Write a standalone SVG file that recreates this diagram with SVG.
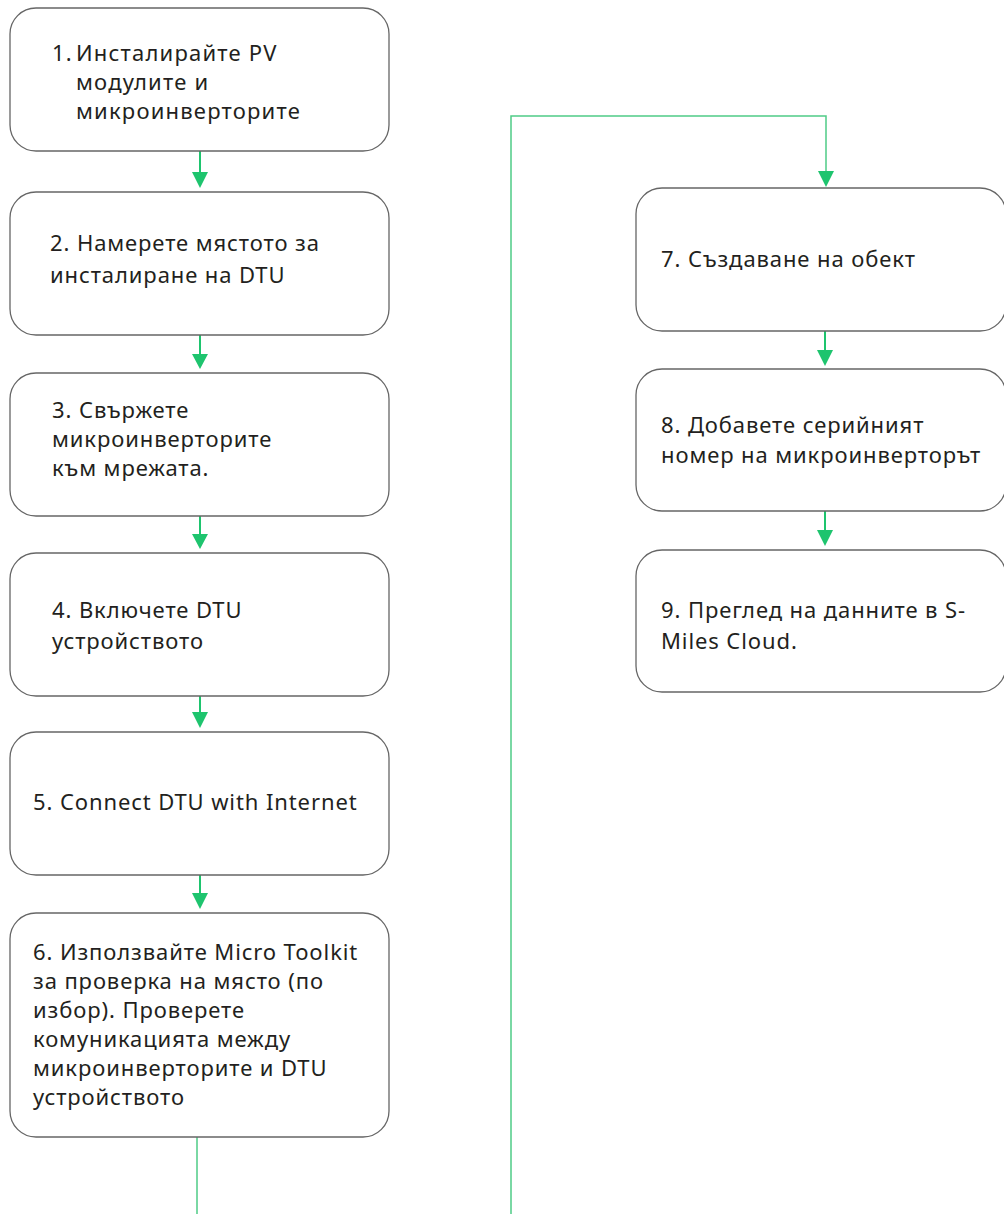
<svg xmlns="http://www.w3.org/2000/svg" width="1004" height="1214" viewBox="0 0 1004 1214">
<style>
.box{fill:#fff;stroke:#666;stroke-width:1.3}
.t{font-family:"Noto Sans","Open Sans","Noto Sans CJK SC",sans-serif;font-size:22px;letter-spacing:0.9px;fill:#231f20}
.t1{font-family:"Noto Sans","Open Sans",sans-serif;font-size:22px;letter-spacing:1.2px;fill:#231f20}
.c{stroke:#1ec46e;stroke-width:2;fill:none}
.cl{stroke:#4fcb86;stroke-width:1.5;fill:none}
.ah{fill:#1ec46e}
</style>
<rect width="1004" height="1214" fill="#fff"/>
<g id="connectors">
<path class="c" d="M200 151V174"/><polygon class="ah" points="192,172 208,172 200,188"/>
<path class="c" d="M200 335V355"/><polygon class="ah" points="192,354 208,354 200,369"/>
<path class="c" d="M200 516V535"/><polygon class="ah" points="192,534 208,534 200,549"/>
<path class="c" d="M200 696V713"/><polygon class="ah" points="192,712 208,712 200,728"/>
<path class="c" d="M200 875V894"/><polygon class="ah" points="192,893 208,893 200,909"/>
<path class="cl" d="M197 1137V1230H511V116H826V172"/><polygon class="ah" points="818,171 834,171 826,187"/>
<path class="c" d="M825 331V351"/><polygon class="ah" points="817,350 833,350 825,366"/>
<path class="c" d="M825 511V531"/><polygon class="ah" points="817,530 833,530 825,546"/>
</g>
<g id="n1"><rect class="box" x="10" y="8" width="379" height="143" rx="26"/>
<text class="t1" x="52" y="61">1.</text><text class="t1" x="76" y="61">Инсталирайте PV</text><text class="t1" x="76" y="90">модулите и</text><text class="t1" x="76" y="119">микроинверторите</text></g>
<g id="n2"><rect class="box" x="10" y="192" width="379" height="143" rx="26"/>
<text class="t" x="50" y="251">2. Намерете мястото за</text><text class="t" x="50" y="283">инсталиране на DTU</text></g>
<g id="n3"><rect class="box" x="10" y="373" width="379" height="143" rx="26"/>
<text class="t" x="52" y="418">3. Свържете</text><text class="t" x="52" y="447">микроинверторите</text><text class="t" x="52" y="476">към мрежата.</text></g>
<g id="n4"><rect class="box" x="10" y="553" width="379" height="143" rx="26"/>
<text class="t" x="52" y="618">4. Включете DTU</text><text class="t" x="52" y="649">устройството</text></g>
<g id="n5"><rect class="box" x="10" y="732" width="379" height="143" rx="26"/>
<text class="t" x="33" y="810">5. Connect DTU with Internet</text></g>
<g id="n6"><rect class="box" x="10" y="913" width="379" height="224" rx="26"/>
<text class="t" x="33" y="960">6. Използвайте Micro Toolkit</text><text class="t" x="33" y="989">за проверка на място (по</text><text class="t" x="33" y="1018">избор). Проверете</text><text class="t" x="33" y="1047">комуникацията между</text><text class="t" x="33" y="1076">микроинверторите и DTU</text><text class="t" x="33" y="1105">устройството</text></g>
<g id="n7"><rect class="box" x="636" y="188" width="370" height="143" rx="26"/>
<text class="t" x="661" y="267">7. Създаване на обект</text></g>
<g id="n8"><rect class="box" x="636" y="369" width="370" height="142" rx="26"/>
<text class="t" x="661" y="433">8. Добавете серийният</text><text class="t" x="661" y="463">номер на микроинверторът</text></g>
<g id="n9"><rect class="box" x="636" y="550" width="370" height="142" rx="26"/>
<text class="t" x="661" y="618">9. Преглед на данните в S-</text><text class="t" x="661" y="649">Miles Cloud.</text></g>
</svg>
